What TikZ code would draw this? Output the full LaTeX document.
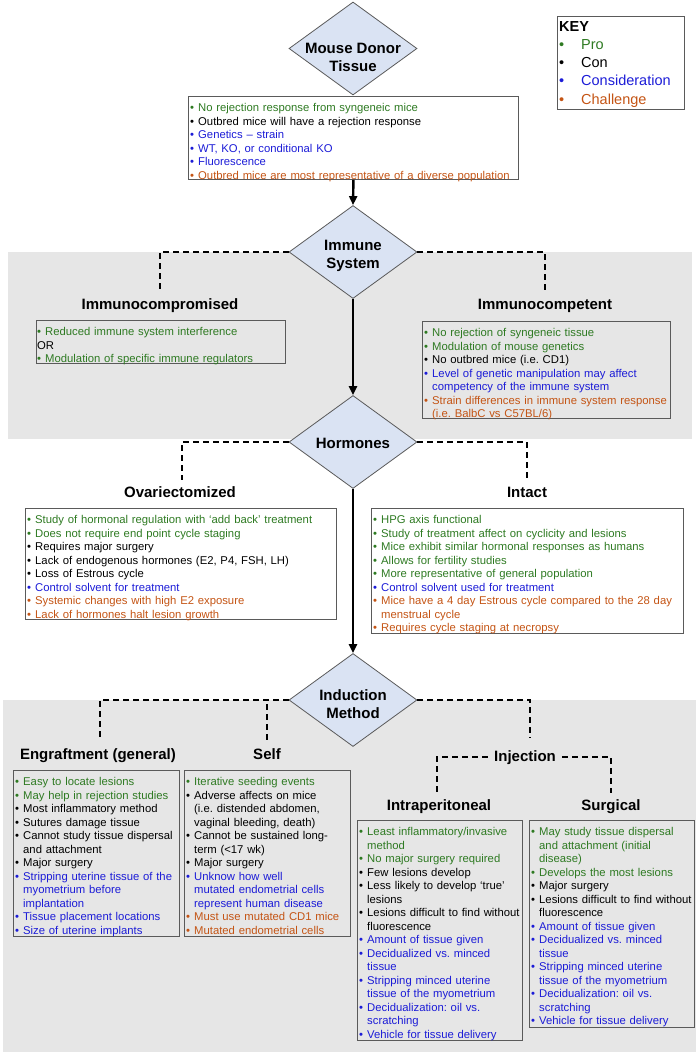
\documentclass[tikz,border=0pt]{standalone}
\usepackage{fontspec}
\setmainfont{Liberation Sans}
\usetikzlibrary{shapes.geometric,arrows.meta}
\frenchspacing
\definecolor{cg}{RGB}{46,122,34}
\definecolor{cb}{RGB}{28,28,215}
\definecolor{co}{RGB}{196,84,20}
\definecolor{bandgray}{RGB}{230,230,230}
\definecolor{diafill}{RGB}{218,227,243}
\definecolor{edgegray}{RGB}{90,90,90}
\newcommand\bi[2]{\par\noindent\strut\makebox[8pt][l]{\textcolor{#1}{\textbullet}}\mbox{\textcolor{#1}{#2}}}
\newcommand\ci[2]{\par\noindent\strut\hspace*{8pt}\mbox{\textcolor{#1}{#2}}}
\newcommand\kb[2]{\par\noindent\strut\makebox[22pt][l]{\textcolor{#1}{\textbullet}}\textcolor{#1}{#2}}
\tikzset{
 bandbg/.style={fill=bandgray, draw=none},
 dia/.style={diamond, draw=edgegray, line width=0.8pt, fill=diafill, minimum width=128pt, minimum height=93pt, inner sep=0pt},
 dtext/.style={font=\fontsize{15}{18}\selectfont\bfseries, align=center, inner sep=0pt},
 infobox/.style={rectangle, draw=edgegray, line width=0.9pt, anchor=north west, inner sep=0pt},
 btext/.style={anchor=north west, inner sep=0pt, text width=#1, font=\fontsize{11.3}{13.5}\selectfont\frenchspacing, align=left},
 head/.style={font=\fontsize{15}{18}\selectfont\bfseries, text height=11pt, text depth=3pt, inner xsep=3pt, inner ysep=5.5pt},
 arr/.style={line width=2.4pt, -{Triangle[length=9pt,width=8pt]}},
 dsh/.style={line width=1.4pt, dash pattern=on 6pt off 4pt},
}
\begin{document}
\begin{tikzpicture}[x=1pt,y=-1pt]
\useasboundingbox (0,0) rectangle (700,1055);
% background bands
\path[bandbg] (8,252) rectangle (692,439);
\path[bandbg] (3,700) rectangle (696,1052);

% KEY
\node[infobox, minimum width=127pt, minimum height=93pt] (key) at (557,16) {};
\node[anchor=north west, inner sep=0pt, text width=120pt, align=left, font=\fontsize{14.5}{18.3}\selectfont] (keyt) at (559,18)
 {\strut\textbf{KEY}\kb{cg}{Pro}\kb{black}{Con}\kb{cb}{Consideration}\kb{co}{Challenge}};

% diamonds
\node[dia] (d1) at (353,48.5) {};
\node[dtext] (d1t) at (353,57) {Mouse Donor\\Tissue};
\node[dia] (d2) at (353,252) {};
\node[dtext] (d2t) at (353,255.5) {Immune\\System};
\node[dia] (d3) at (353,442) {};
\node[dtext] (d3t) at (353,443) {Hormones};
\node[dia] (d4) at (353,700) {};
\node[dtext] (d4t) at (353,704) {Induction\\Method};

% top box
\node[infobox, minimum width=330pt, minimum height=83pt] (b0) at (188,96) {};
\node[btext=326pt] (b0t) at (190,98) {%
\bi{cg}{No rejection response from syngeneic mice}
\bi{black}{Outbred mice will have a rejection response}
\bi{cb}{Genetics – strain}
\bi{cb}{WT, KO, or conditional KO}
\bi{cb}{Fluorescence}
\bi{co}{Outbred mice are most representative of a diverse population}};

% immune section
\node[head] (imc) at (160,305) {Immunocompromised};
\node[head] (imp) at (545,305) {Immunocompetent};
\node[infobox, minimum width=249pt, minimum height=43pt] (bimc) at (36,320) {};
\node[btext=245pt] (bimct) at (37,322) {%
\bi{cg}{Reduced immune system interference}
\par\noindent\strut OR
\bi{cg}{Modulation of specific immune regulators}};
\node[infobox, minimum width=248pt, minimum height=97pt] (bimp) at (422,321) {};
\node[btext=244pt] (bimpt) at (424,323) {%
\bi{cg}{No rejection of syngeneic tissue}
\bi{cg}{Modulation of mouse genetics}
\bi{black}{No outbred mice (i.e. CD1)}
\bi{cb}{Level of genetic manipulation may affect}
\ci{cb}{competency of the immune system}
\bi{co}{Strain differences in immune system response}
\ci{co}{(i.e. BalbC vs C57BL/6)}};

% hormones section
\node[head] (ova) at (180,493) {Ovariectomized};
\node[head] (int) at (527,493) {Intact};
\node[infobox, minimum width=311pt, minimum height=111pt] (bova) at (25,508) {};
\node[btext=307pt] (bovat) at (27,510) {%
\bi{cg}{Study of hormonal regulation with ‘add back’ treatment}
\bi{cg}{Does not require end point cycle staging}
\bi{black}{Requires major surgery}
\bi{black}{Lack of endogenous hormones (E2, P4, FSH, LH)}
\bi{black}{Loss of Estrous cycle}
\bi{cb}{Control solvent for treatment}
\bi{co}{Systemic changes with high E2 exposure}
\bi{co}{Lack of hormones halt lesion growth}};
\node[infobox, minimum width=312pt, minimum height=125pt] (bint) at (371,508) {};
\node[btext=308pt] (bintt) at (373,510) {%
\bi{cg}{HPG axis functional}
\bi{cg}{Study of treatment affect on cyclicity and lesions}
\bi{cg}{Mice exhibit similar hormonal responses as humans}
\bi{cg}{Allows for fertility studies}
\bi{cg}{More representative of general population}
\bi{cb}{Control solvent used for treatment}
\bi{co}{Mice have a 4 day Estrous cycle compared to the 28 day}
\ci{co}{menstrual cycle}
\bi{co}{Requires cycle staging at necropsy}};

% induction section
\node[head] (eng) at (98,755) {Engraftment (general)};
\node[head] (slf) at (267,755) {Self};
\node[head, inner xsep=6pt] (inj) at (525,757) {Injection};
\node[head] (ipt) at (439,806) {Intraperitoneal};
\node[head] (sur) at (611,806) {Surgical};

\node[infobox, minimum width=166pt, minimum height=166pt] (beng) at (13,770) {};
\node[btext=162pt] (bengt) at (15,772) {%
\bi{cg}{Easy to locate lesions}
\bi{cg}{May help in rejection studies}
\bi{black}{Most inflammatory method}
\bi{black}{Sutures damage tissue}
\bi{black}{Cannot study tissue dispersal}
\ci{black}{and attachment}
\bi{black}{Major surgery}
\bi{cb}{Stripping uterine tissue of the}
\ci{cb}{myometrium before}
\ci{cb}{implantation}
\bi{cb}{Tissue placement locations}
\bi{cb}{Size of uterine implants}};

\node[infobox, minimum width=166pt, minimum height=166pt] (bslf) at (184,770) {};
\node[btext=162pt] (bslft) at (186,772) {%
\bi{cg}{Iterative seeding events}
\bi{black}{Adverse affects on mice}
\ci{black}{(i.e. distended abdomen,}
\ci{black}{vaginal bleeding, death)}
\bi{black}{Cannot be sustained long-}
\ci{black}{term (<17 wk)}
\bi{black}{Major surgery}
\bi{cb}{Unknow how well}
\ci{cb}{mutated endometrial cells}
\ci{cb}{represent human disease}
\bi{co}{Must use mutated CD1 mice}
\bi{co}{Mutated endometrial cells}};

\node[infobox, minimum width=165pt, minimum height=220pt] (bipt) at (357,820) {};
\node[btext=161pt] (biptt) at (359,822) {%
\bi{cg}{Least inflammatory/invasive}
\ci{cg}{method}
\bi{cg}{No major surgery required}
\bi{black}{Few lesions develop}
\bi{black}{Less likely to develop ‘true’}
\ci{black}{lesions}
\bi{black}{Lesions difficult to find without}
\ci{black}{fluorescence}
\bi{cb}{Amount of tissue given}
\bi{cb}{Decidualized vs. minced}
\ci{cb}{tissue}
\bi{cb}{Stripping minced uterine}
\ci{cb}{tissue of the myometrium}
\bi{cb}{Decidualization: oil vs.}
\ci{cb}{scratching}
\bi{cb}{Vehicle for tissue delivery}};

\node[infobox, minimum width=165pt, minimum height=207pt] (bsur) at (529,820) {};
\node[btext=161pt] (bsurt) at (531,822) {%
\bi{cg}{May study tissue dispersal}
\ci{cg}{and attachment (initial}
\ci{cg}{disease)}
\bi{cg}{Develops the most lesions}
\bi{black}{Major surgery}
\bi{black}{Lesions difficult to find without}
\ci{black}{fluorescence}
\bi{cb}{Amount of tissue given}
\bi{cb}{Decidualized vs. minced}
\ci{cb}{tissue}
\bi{cb}{Stripping minced uterine}
\ci{cb}{tissue of the myometrium}
\bi{cb}{Decidualization: oil vs.}
\ci{cb}{scratching}
\bi{cb}{Vehicle for tissue delivery}};

% main arrows
\draw[arr] (b0.south) -- (d2.north);
\draw[arr] (d2.south) -- (d3.north);
\draw[arr] (d3.south) -- (d4.north);

% dashed branches
\draw[dsh] (d2.west) -| (imc.north);
\draw[dsh] (d2.east) -| (imp.north);
\draw[dsh] (d3.west) -| ([xshift=2pt]ova.north);
\draw[dsh] (d3.east) -| (int.north);
\draw[dsh] (d4.west) -| ([xshift=2pt,yshift=2.5pt]eng.north);
\draw[dsh] ([yshift=2.5pt]slf.north) -- (slf.north |- d4.west);
\draw[dsh] (d4.east) -| ([xshift=5pt,yshift=6.5pt]inj.north);
\draw[dsh] (inj.west) -| ([xshift=-2pt]ipt.north);
\draw[dsh] (inj.east) -| (sur.north);
\end{tikzpicture}
\end{document}
